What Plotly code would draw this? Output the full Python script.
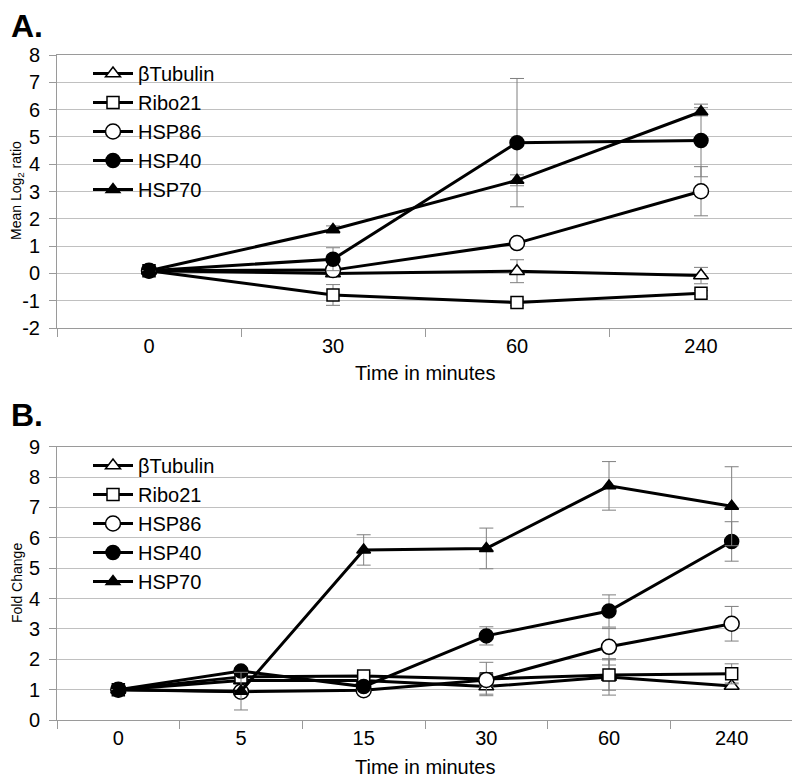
import plotly.graph_objects as go

# ---------------- Data ----------------
names = ["βTubulin", "Ribo21", "HSP86", "HSP40", "HSP70"]

# Panel A: Mean Log2 ratio
time_a = ["0", "30", "60", "240"]
a_tub = [0.1, 0.0, 0.08, -0.08]
a_tub_err = [0, 0.1, 0.42, 0.3]
a_ribo = [0.1, -0.79, -1.07, -0.73]
a_ribo_err = [0, 0.38, 0.1, 0.1]
a_hsp86 = [0.1, 0.12, 1.11, 3.01]
a_hsp86_err = [0, 0.1, 0.1, 0.9]
a_hsp40 = [0.1, 0.52, 4.79, 4.87]
a_hsp40_err = [0, 0.42, 2.35, 1.33]
a_hsp70 = [0.1, 1.61, 3.41, 5.92]
a_hsp70_err = [0, 0.13, 0.2, 0.15]

# Panel B: Fold change
time_b = ["0", "5", "15", "30", "60", "240"]
b_tub = [1.0, 1.3, 1.3, 1.1, 1.42, 1.12]
b_tub_err = [0, 0.1, 0.1, 0.25, 0.6, 0.1]
b_ribo = [1.0, 1.42, 1.45, 1.35, 1.48, 1.52]
b_ribo_err = [0, 0.1, 0.1, 0.55, 0.5, 0.33]
b_hsp86 = [1.0, 0.93, 0.98, 1.32, 2.41, 3.17]
b_hsp86_err = [0, 0.1, 0.1, 0.2, 0.6, 0.57]
b_hsp40 = [1.0, 1.61, 1.1, 2.77, 3.59, 5.88]
b_hsp40_err = [0, 0.1, 0.1, 0.3, 0.53, 0.65]
b_hsp70 = [1.0, 0.95, 5.6, 5.65, 7.71, 7.04]
b_hsp70_err = [0, 0.62, 0.5, 0.67, 0.8, 1.3]

yticks_a = [-2, -1, 0, 1, 2, 3, 4, 5, 6, 7, 8]
yticklabels_a = ["-2", "-1", "0", "1", "2", "3", "4", "5", "6", "7", "8"]
yticks_b = [0, 1, 2, 3, 4, 5, 6, 7, 8, 9]
yticklabels_b = ["0", "1", "2", "3", "4", "5", "6", "7", "8", "9"]

# ---------------- Styles ----------------
symbols = ["triangle-up", "square", "circle", "circle", "triangle-up"]
fills = ["white", "white", "white", "black", "black"]
sizes = [13, 12, 15, 14, 12]

# page body has an 8px margin: work in window pixels and convert
OFF = 8
W, H = 800 - OFF, 783 - OFF
def xp(px):
    return (px - OFF) / W
def yp(py):
    return 1 - (py - OFF) / H

fig = go.Figure()

series_a = [(a_tub, a_tub_err), (a_ribo, a_ribo_err), (a_hsp86, a_hsp86_err),
            (a_hsp40, a_hsp40_err), (a_hsp70, a_hsp70_err)]
series_b = [(b_tub, b_tub_err), (b_ribo, b_ribo_err), (b_hsp86, b_hsp86_err),
            (b_hsp40, b_hsp40_err), (b_hsp70, b_hsp70_err)]

for i, (vals, errs) in enumerate(series_a):
    fig.add_trace(go.Scatter(
        x=time_a, y=vals, name=names[i], mode="lines+markers",
        line=dict(color="black", width=3),
        marker=dict(symbol=symbols[i], size=sizes[i], color=fills[i],
                    line=dict(color="black", width=1.5)),
        error_y=dict(type="data", array=errs, visible=True, color="#7f7f7f",
                     thickness=1, width=7),
        xaxis="x", yaxis="y", legend="legend",
    ))

for i, (vals, errs) in enumerate(series_b):
    fig.add_trace(go.Scatter(
        x=time_b, y=vals, name=names[i], mode="lines+markers",
        line=dict(color="black", width=3),
        marker=dict(symbol=symbols[i], size=sizes[i], color=fills[i],
                    line=dict(color="black", width=1.5)),
        error_y=dict(type="data", array=errs, visible=True, color="#7f7f7f",
                     thickness=1, width=7),
        xaxis="x2", yaxis="y2", legend="legend2",
    ))

xdom = [xp(57), xp(793)]
ydom_a = [yp(328), yp(55)]
ydom_b = [yp(720), yp(446.7)]

font = "Liberation Sans, Arial, sans-serif"
tickfont = dict(family=font, size=20, color="black")
gridc = "#c0c0c0"
axc = "#9a9a9a"

def xaxis_cfg(cats, dom, anchor):
    return dict(type="category", categoryorder="array", categoryarray=cats,
                range=[-0.5, len(cats) - 0.5], domain=dom, anchor=anchor,
                showgrid=False, showline=True, mirror=True, linecolor=axc,
                linewidth=1, ticks="outside", tickson="boundaries",
                ticklen=8, tickcolor=axc, tickfont=tickfont, zeroline=False,
                automargin=False, fixedrange=True)

def yaxis_cfg(rng, vals, labels, dom, anchor):
    return dict(range=rng, tickvals=vals, ticktext=labels, domain=dom,
                anchor=anchor, showgrid=True, gridcolor=gridc, gridwidth=1,
                showline=True, mirror=True, linecolor=axc, linewidth=1,
                ticks="outside", ticklen=7, tickcolor=axc, tickfont=tickfont,
                zeroline=False, automargin=False, ticklabelstandoff=5)

legfont = dict(family=font, size=20, color="black")
fig.update_layout(
    width=W, height=H,
    margin=dict(l=0, r=0, t=0, b=0),
    paper_bgcolor="white", plot_bgcolor="white",
    font=dict(family=font, color="black"),
    xaxis=xaxis_cfg(time_a, xdom, "y"),
    yaxis=yaxis_cfg([-2, 8], yticks_a, yticklabels_a, ydom_a, "x"),
    xaxis2=xaxis_cfg(time_b, xdom, "y2"),
    yaxis2=yaxis_cfg([0, 9], yticks_b, yticklabels_b, ydom_b, "x2"),
    legend=dict(x=xp(88), y=yp(54), xanchor="left", yanchor="top",
                bgcolor="rgba(0,0,0,0)", font=legfont,
                itemwidth=40, tracegroupgap=0),
    legend2=dict(x=xp(88), y=yp(446), xanchor="left", yanchor="top",
                 bgcolor="rgba(0,0,0,0)", font=legfont,
                 itemwidth=40, tracegroupgap=0),
    showlegend=True,
)

annos = [
    dict(text="<b>A.</b>", x=xp(9), y=yp(6), xanchor="left", yanchor="top",
         font=dict(size=32)),
    dict(text="<b>B.</b>", x=xp(9), y=yp(395), xanchor="left", yanchor="top",
         font=dict(size=32)),
    dict(text="Time in minutes", x=xp(425), y=yp(373), xanchor="center",
         yanchor="middle", font=dict(size=20)),
    dict(text="Time in minutes", x=xp(425), y=yp(767), xanchor="center",
         yanchor="middle", font=dict(size=20)),
    dict(text="Mean Log<sub>2</sub> ratio", x=xp(17), y=yp(191),
         xanchor="center", yanchor="middle", textangle=-90, font=dict(size=14)),
    dict(text="Fold Change", x=xp(17), y=yp(583),
         xanchor="center", yanchor="middle", textangle=-90, font=dict(size=14)),
]
for a in annos:
    a.update(xref="paper", yref="paper", showarrow=False)
    a["font"] = dict(family=font, color="black", **a["font"])
fig.update_layout(annotations=annos)

fig.write_html("out.html")
